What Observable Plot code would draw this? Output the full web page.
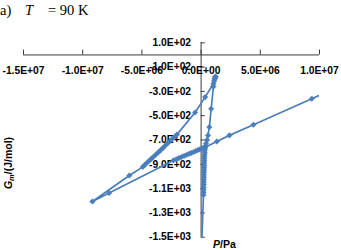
<!DOCTYPE html>
<html><head><meta charset="utf-8">
<script src="https://cdn.jsdelivr.net/npm/d3@7"></script>
<script src="https://cdn.jsdelivr.net/npm/@observablehq/plot@0.6"></script>
<style>
body{margin:0;background:#fff;}
#wrap{position:relative;width:341px;height:250px;overflow:hidden;background:#fff;}
#wrap svg{position:absolute;left:0;top:0;}
.t{position:absolute;top:3px;font-family:"Liberation Serif","Times New Roman",serif;font-size:14.5px;line-height:15px;color:#000;white-space:nowrap;}
.lab{position:absolute;font-family:"Liberation Sans",Arial,sans-serif;font-weight:bold;font-size:10.5px;color:#000;white-space:nowrap;line-height:11px;}
.lab sub{font-size:7.5px;vertical-align:-2px;}
</style></head>
<body>
<div id="wrap">
  <div class="t" style="left:0px">a)</div>
  <div class="t" style="left:25px"><i>T</i></div>
  <div class="t" style="left:48px">= 90 K</div>
  <div class="lab" id="ylab" style="left:10px;top:163px;transform:translate(-50%,-50%) rotate(-90deg);"><i>G</i><sub><i>m</i></sub>/(J/mol)</div>
  <div class="lab" id="xlab" style="left:213px;top:239px;"><i>P</i>/Pa</div>
</div>
<script>
// Pressure P (Pa) and molar Gibbs energy G (J/mol)
const P = [
  0.0e6,
  0.20e6,0.205e6,0.21e6,0.215e6,0.22e6,0.225e6,0.23e6,0.235e6,0.24e6,0.245e6,0.25e6,0.255e6,0.26e6,0.265e6,0.27e6,0.275e6,0.28e6,0.29e6,0.30e6,0.31e6,0.33e6,0.36e6,
  0.42e6,0.50e6,0.58e6,0.70e6,0.85e6,1.04e6,1.10e6,1.17e6,1.21e6,1.22e6,1.20e6,1.14e6,1.04e6,
  0.34e6,-0.51e6,-2.03e6,
  -2.22e6,-2.42e6,-2.62e6,-2.82e6,-3.02e6,-3.22e6,-3.42e6,-3.62e6,-3.82e6,-4.02e6,-4.22e6,-4.42e6,-4.62e6,-4.78e6,-4.92e6,
  -6.06e6,-9.18e6,
  -7.77e6,-2.34e6,
  -2.10e6,-1.88e6,-1.66e6,-1.44e6,-1.22e6,-1.02e6,-0.82e6,-0.62e6,-0.44e6,-0.26e6,-0.10e6,0.06e6,0.20e6,0.34e6,
  1.33e6,2.39e6,4.42e6,9.35e6,1.2e7
];
const G = [
  -1700,
  -1152,-1130,-1109,-1088,-1067,-1046,-1026,-1006,-986,-966,-947,-928,-909,-890,-871,-853,-835,-817,-800,-783,-767,-751,
  -728,-700,-662,-594,-443,-260,-215,-195,-182,-178,-182,-198,-237,
  -347,-473,-654,
  -671,-689,-708,-727,-746,-765,-784,-802,-820,-838,-856,-874,-892,-907,-921,
  -992,-1206,
  -1137,-868,
  -858,-849,-840,-831,-822,-814,-806,-798,-790,-783,-776,-770,-764,-759,
  -712,-662,-574,-360,-245
];
const xTicks = [-1.5e7,-1.0e7,-5.0e6,0,5.0e6,1.0e7];
const xTickLabels = ["-1.5E+07","-1.0E+07","-5.0E+06","0.0E+00","5.0E+06","1.0E+07"];
const yTicks = [100,-100,-300,-500,-700,-900,-1100,-1300,-1500];
const yTickLabels = ["1.0E+02","-1.0E+02","-3.0E+02","-5.0E+02","-7.0E+02","-9.0E+02","-1.1E+03","-1.3E+03","-1.5E+03"];

const data = P.map((p,i)=>({P:p, G:G[i]}));
const xt = xTicks.map((v,i)=>({v, label:xTickLabels[i]}));
const yt = yTicks.map((v,i)=>({v, label:yTickLabels[i]}));
const blue = "#4a7ebb";
const axisColor = "#3a3a3a";
const font = {fontFamily:"Liberation Sans, Arial, sans-serif", fontWeight:"bold", fontSize:10.3, fill:"#000"};

const chart = Plot.plot({
  width: 341, height: 250,
  marginLeft: 23, marginRight: 22, marginTop: 42.3, marginBottom: 13.3,
  style: {background:"transparent", fontFamily:"Liberation Sans, Arial, sans-serif"},
  x: {domain:[-1.5e7,1e7], axis:null},
  y: {domain:[-1500,100], axis:null},
  marks: [
    Plot.ruleY([0], {stroke:axisColor, strokeWidth:1}),
    Plot.ruleX([0], {stroke:axisColor, strokeWidth:1}),
    Plot.ruleX(xt, {x:"v", y1:()=>0, y2:()=>40, stroke:axisColor, strokeWidth:1}),
    Plot.ruleY(yt, {y:"v", x1:()=>0, x2:()=>3.5e5, stroke:axisColor, strokeWidth:1}),
    Plot.text(xt, {x:"v", y:()=>0, text:"label", dy:15.5, ...font}),
    Plot.text(yt, {x:()=>0, y:"v", text:"label", dx:-10, textAnchor:"end", ...font}),
    Plot.line(data, {x:"P", y:"G", stroke:blue, strokeWidth:1.7, clip:true}),
    Plot.dot(data, {x:"P", y:"G", symbol:"diamond2", r:2.5, fill:blue, stroke:blue, strokeWidth:0.5, clip:true})
  ]
});
document.getElementById("wrap").prepend(chart);
</script>
</body></html>
